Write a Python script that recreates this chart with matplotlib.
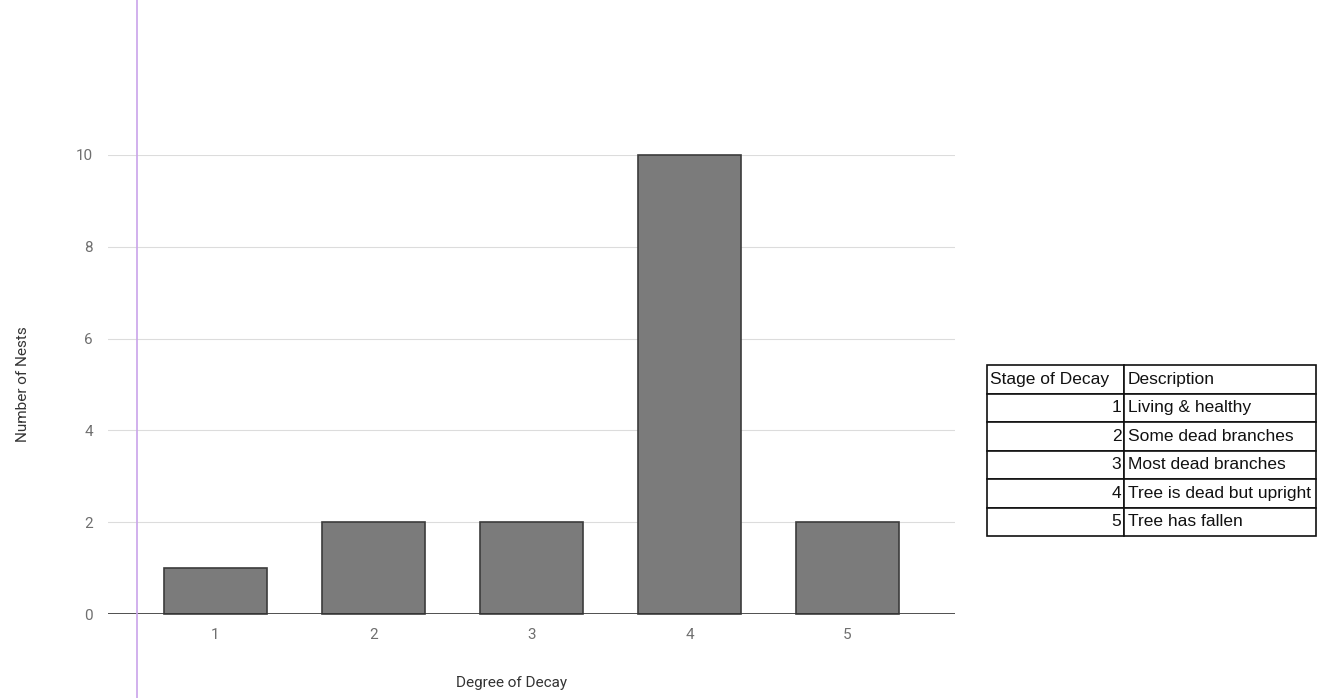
import matplotlib.pyplot as plt
import matplotlib.lines as mlines

# data
stages = [1, 2, 3, 4, 5]
nests = [1, 2, 2, 10, 2]
y_ticks = [0, 2, 4, 6, 8, 10]

table_header = ['Stage of Decay', 'Description']
descriptions = ['Living & healthy', 'Some dead branches', 'Most dead branches',
                'Tree is dead but upright', 'Tree has fallen']

W, H = 1322, 698
fig = plt.figure(figsize=(W / 100, H / 100), dpi=100)

# main chart axes, placed in pixel terms
left, right, bottom, top = 108, 955, 614, 155
ax = fig.add_axes([left / W, 1 - bottom / H, (right - left) / W, (bottom - top) / H])

ax.bar(stages, nests, width=0.65, color='#7b7b7b', edgecolor='#3c3c3c',
       linewidth=1.2, zorder=3, clip_on=False)
ax.set_xlim(0.32, 5.68)
ax.set_ylim(0, 10)
ax.set_xticks(stages)
ax.set_yticks(y_ticks)
ax.tick_params(length=0, labelsize=11, colors='#6f6f6f', pad=11)
ax.tick_params(axis='x', pad=10)
for lab in ax.get_xticklabels() + ax.get_yticklabels():
    lab.set_fontfamily('Roboto')

ax.grid(axis='y', color='#dcdcdc', linewidth=0.8, zorder=0)
for s in ax.spines.values():
    s.set_visible(False)
ax.axhline(0, color='#333333', linewidth=1.2, zorder=4)

ax.set_xlabel('Degree of Decay', fontsize=11, fontfamily='Roboto', color='#333333')
ax.xaxis.set_label_coords(0.477, -0.134)
ax.set_ylabel('Number of Nests', fontsize=11, fontfamily='Roboto', color='#333333', labelpad=33)

# thin purple margin line across the full height
fig.add_artist(mlines.Line2D([137 / W, 137 / W], [0, 1], color='#c9a3ea', linewidth=1.2))

# decay stage legend table
tl, tr, tt, tb = 987, 1316, 365, 536
tax = fig.add_axes([tl / W, 1 - tb / H, (tr - tl) / W, (tb - tt) / H])
tax.axis('off')
cells = [[str(s), d] for s, d in zip(stages, descriptions)]
tbl = tax.table(cellText=cells, colLabels=table_header, bbox=[0, 0, 1, 1],
                colWidths=[137 / 329, 192 / 329])
tbl.auto_set_font_size(False)
for (r, c), cell in tbl.get_celld().items():
    cell.set_edgecolor('#111111')
    cell.set_linewidth(1.2)
    cell.PAD = 0.02
    ha = 'right' if (r > 0 and c == 0) else 'left'
    cell.set_text_props(fontsize=12.5, fontfamily='Liberation Sans', color='#111111', ha=ha)

fig.savefig('out.png', dpi=100)
